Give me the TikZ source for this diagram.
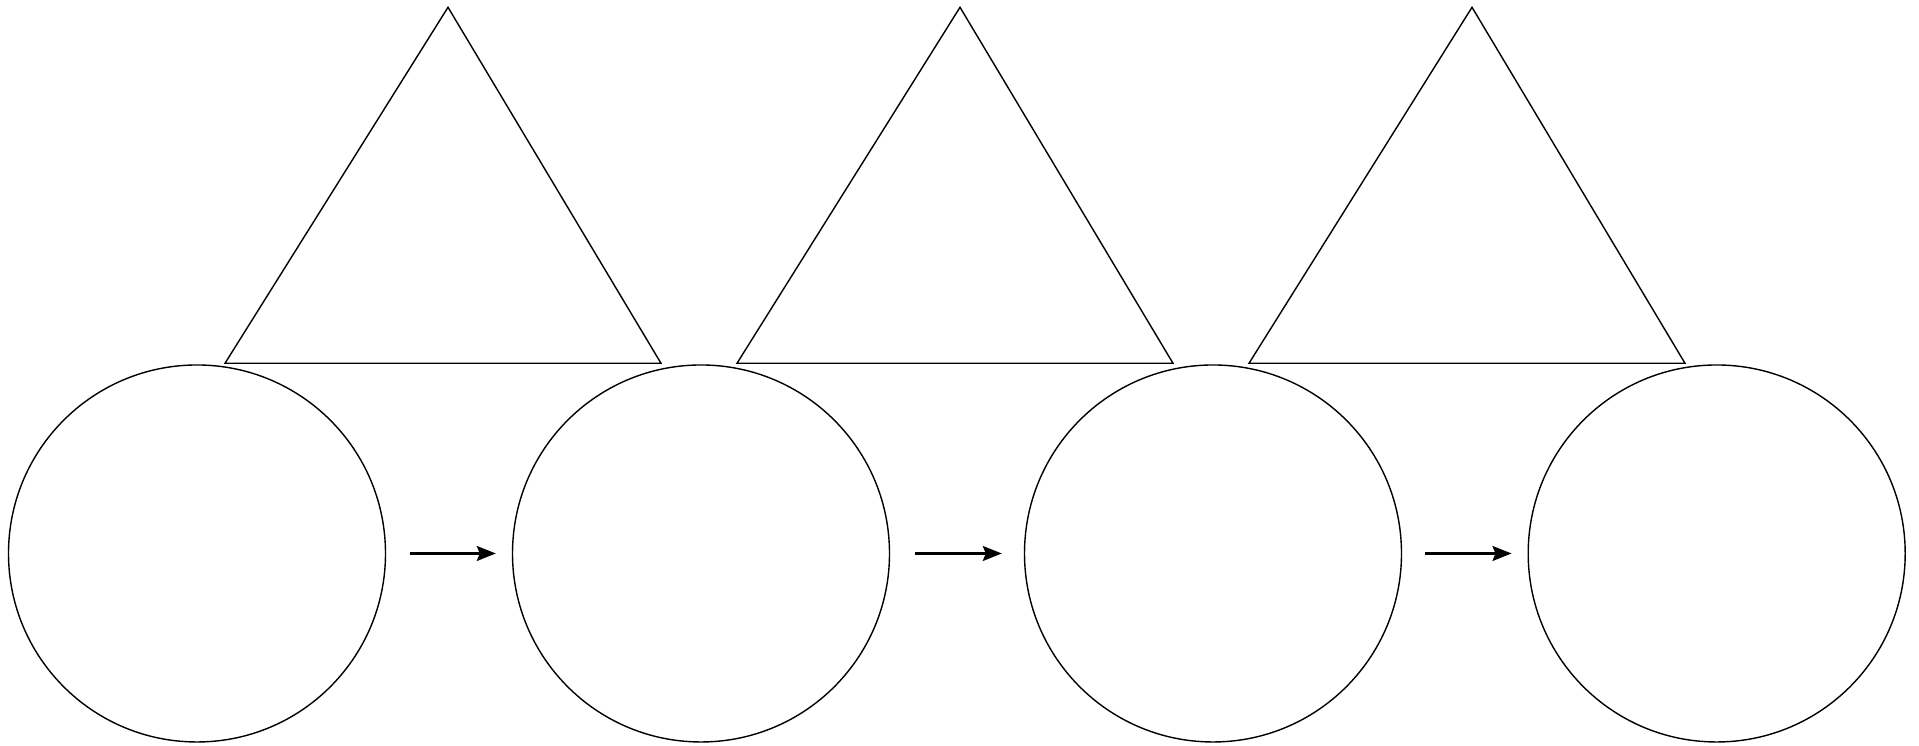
\documentclass[tikz,border=0pt]{standalone}
\usepackage{tikz}
\usetikzlibrary{arrows.meta}

\begin{document}
\begin{tikzpicture}[
  stage/.style={circle, draw=black, minimum size=3.77cm, inner sep=0pt},
  tri/.style={draw=black, line join=miter},
  arr/.style={-{Stealth[length=1.9mm, width=1.5mm, inset=0.3mm]}, semithick,
              shorten <=2.35mm, shorten >=1.6mm}
]
\useasboundingbox (0, 0) rectangle (19.19, 7.46);

\node[stage] (s1) at (1.97, 1.925) {};
\node[stage] (s2) at (7.01, 1.925) {};
\node[stage] (s3) at (12.13, 1.925) {};
\node[stage] (s4) at (17.167, 1.925) {};

\draw[tri] (2.25, 3.827) -- (6.61, 3.827) -- (4.48, 7.387) -- cycle;
\draw[tri] (7.37, 3.827) -- (11.73, 3.827) -- (9.60, 7.387) -- cycle;
\draw[tri] (12.49, 3.827) -- (16.85, 3.827) -- (14.72, 7.387) -- cycle;

\draw[arr] (s1.east) -- (s2.west);
\draw[arr, shorten <=2.45mm, shorten >=2.2mm] (s2.east) -- (s3.west);
\draw[arr, shorten <=2.3mm] (s3.east) -- (s4.west);
\end{tikzpicture}
\end{document}
